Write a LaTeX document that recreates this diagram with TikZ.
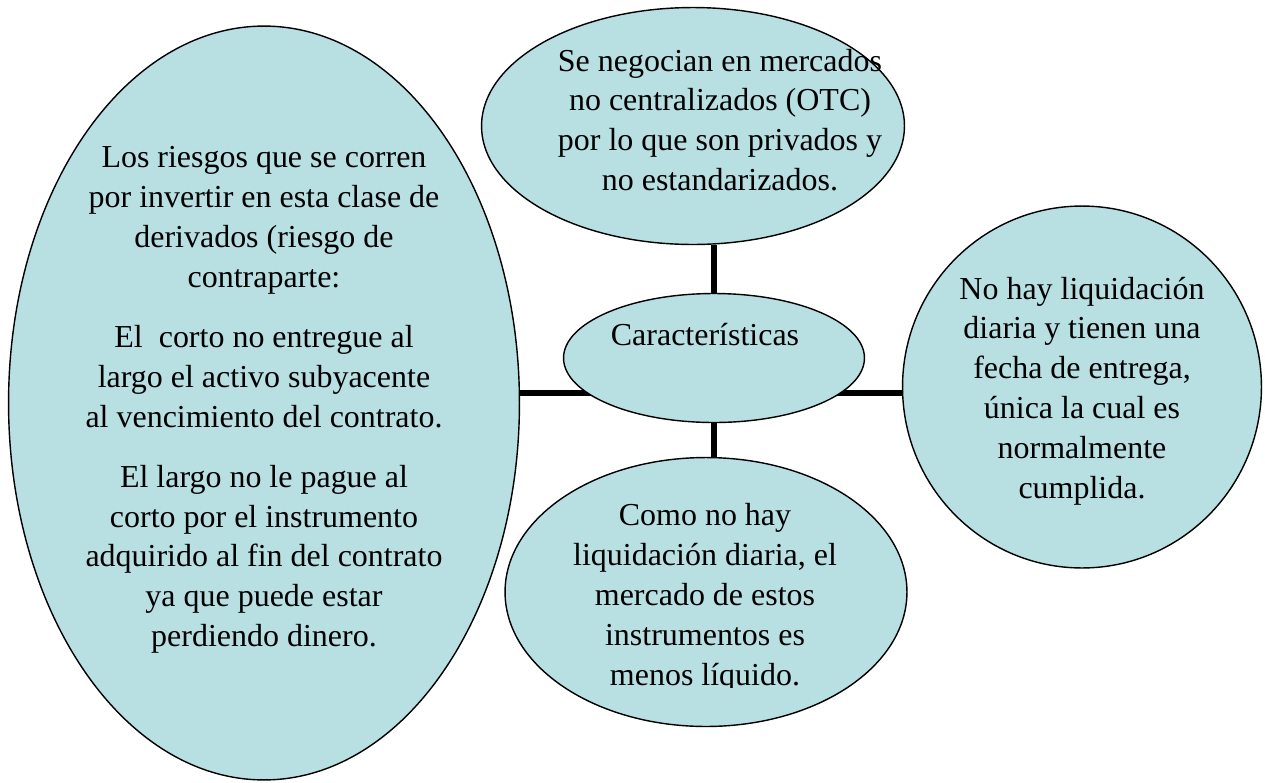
\documentclass[tikz,border=0pt]{standalone}
\usepackage{fontspec}
\setmainfont{Liberation Serif}
\usetikzlibrary{shapes.geometric,backgrounds}
\definecolor{burbuja}{RGB}{184,223,226}
\begin{document}
\begin{tikzpicture}[x=0.02cm,y=-0.02cm,
    bubble/.style={ellipse,draw=black,line width=0.8pt,fill=burbuja,inner sep=0pt},
    txt/.style={align=center,font=\fontsize{18.2}{22.7}\selectfont},
    conector/.style={line width=3.3pt,black}]
        \useasboundingbox (0,0) rectangle (1265,782);
        \node[bubble,minimum width=10.22cm,minimum height=15.08cm] (riesgos) at (264,403) {};
        \node[bubble,minimum width=8.46cm,minimum height=4.74cm] (mercados) at (693,126) {};
        \node[bubble,minimum width=6.02cm,minimum height=2.58cm] (centro) at (714,358) {};
        \node[bubble,minimum width=8.04cm,minimum height=5.38cm] (liquidez) at (706,592) {};
        \node[bubble,minimum width=7.18cm,minimum height=7.24cm] (entrega) at (1082,387) {};
        \coordinate (eje) at (0,393);
        % lines go behind the bubbles
        \begin{scope}[on background layer]
          \draw[conector] (riesgos.east |- eje) -- (entrega.west |- eje);
          \draw[conector] (mercados.south -| centro) -- (centro.center);
          \draw[conector] (centro.center) -- (liquidez.north -| centro);
        \end{scope}
        \node[txt] (riesgos-txt) at (264,400) {Los riesgos que se corren\\por invertir en esta clase de\\derivados (riesgo de\\contraparte:\\[11.5pt]
          El\ \ corto no entregue al\\largo el activo subyacente\\al vencimiento del contrato.\\[11.5pt]
          El largo no le pague al\\corto por el instrumento\\adquirido al fin del contrato\\ya que puede estar\\perdiendo dinero.};
        \node[txt] (mercados-txt) at (720,120) {Se negocian en mercados\\no centralizados (OTC)\\por lo que son privados y\\no estandarizados.};
        \node[txt] (centro-txt) at (705,335) {Características};
        % last line is cut off at the bottom
        \begin{scope}
          \clip (500,450) rectangle (910,687);
          \node[txt] (liquidez-txt) at (705,598) {Como no hay\\liquidación diaria, el\\mercado de estos\\instrumentos es\\menos líquido.};
        \end{scope}
        \node[txt] (entrega-txt) at (1082,391) {No hay liquidación\\diaria y tienen una\\fecha de entrega,\\única la cual es\\normalmente\\cumplida.};
      \end{tikzpicture}
\end{document}
